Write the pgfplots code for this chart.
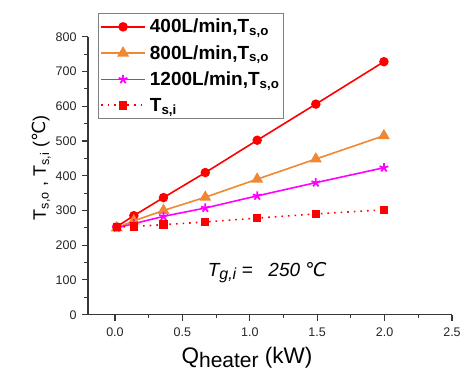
\documentclass[border=0pt]{standalone}
\usepackage{fontspec}
\setmainfont{Liberation Sans}
\newfontfamily\dejavu{DejaVu Sans}
\usepackage{pgfplots}
\pgfplotsset{compat=1.18}
\definecolor{cred}{RGB}{255,0,0}
\definecolor{corange}{RGB}{240,135,50}
\definecolor{cmag}{RGB}{255,0,255}
\definecolor{axgray}{RGB}{55,55,55}
\newcommand{\degC}{{\dejavu ℃}}
\begin{document}
\begin{tikzpicture}[x=1pt,y=1pt]
\begin{axis}[
  at={(0,0)}, anchor=south west,
  scale only axis, width=364pt, height=278pt,
  xmin=-0.2, xmax=2.5, ymin=0, ymax=800,
  axis x line*=bottom, axis y line*=left,
  axis line style={axgray, line width=1.3pt},
  xtick={0,0.5,...,2.5}, ytick={0,100,...,800},
  minor x tick num=1, minor y tick num=1,
  tick align=outside,
  major tick length=6pt, minor tick length=3.5pt,
  tick style={axgray, line width=1.1pt},
  xticklabel style={/pgf/number format/fixed, /pgf/number format/fixed zerofill, /pgf/number format/precision=1},
  /pgf/number format/assume math mode=true,
  ticklabel style={font=\fontsize{12.5}{14}\selectfont, text=black!85},
  xticklabel shift=4pt, yticklabel shift=2pt,
  xlabel={Q\raisebox{-0.35ex}{\fontsize{21}{23}\selectfont heater} (kW)},
  ylabel={T\textsubscript{s,o} , T\textsubscript{s,i} (\degC)},
  xlabel style={font=\fontsize{22.5}{24}\selectfont, yshift=-3pt, xshift=-23pt},
  ylabel style={font=\fontsize{18}{22}\selectfont, yshift=-2pt, xshift=8pt},
  clip=false,
  legend cell align=left,
  legend style={at={(rel axis cs:0.027,1.086)}, anchor=north west,
    draw=gray, line width=0.8pt, font=\fontsize{19}{21}\selectfont\bfseries,
    row sep=7pt, inner xsep=2pt, inner ysep=4pt,
    /tikz/every odd column/.append style={column sep=2pt}},
  legend image code/.code={\draw[line width=1.7pt,mark repeat=2,mark phase=2] plot coordinates {(0pt,0pt) (22pt,0pt) (44pt,0pt)};},
]
\addplot[cred, line width=1.6pt, mark=*, mark size=3.9pt] coordinates {
 (0.013,253) (0.14,285) (0.36,337) (0.67,409) (1.055,502) (1.49,606) (1.995,728)};
\addlegendentry{400L/min,T\textsubscript{s,o}}
\addplot[corange, line width=1.6pt, mark=triangle*, mark size=5.3pt] coordinates {
 (0.013,250) (0.14,270) (0.36,300) (0.67,338) (1.055,390) (1.49,448) (1.995,515)};
\addlegendentry{800L/min,T\textsubscript{s,o}}
\addplot[cmag, line width=1.6pt, mark=star, mark size=4.6pt, mark options={line width=1.8pt}] coordinates {
 (0.013,250) (0.14,262) (0.36,283) (0.67,307) (1.055,342) (1.49,380) (1.995,423)};
\addlegendentry{1200L/min,T\textsubscript{s,o}}
\addplot[cred, line width=1.6pt, dash pattern=on 1.6pt off 5pt, mark=square*, mark size=3.4pt, mark options={solid}] coordinates {
 (0.013,252) (0.14,254) (0.36,259) (0.67,267) (1.055,278) (1.49,290) (1.995,302)};
\addlegendentry{T\textsubscript{s,i}}
\node[font=\fontsize{19}{21}\selectfont\itshape] at (axis cs:1.13,120) {T\raisebox{-0.3ex}{\fontsize{16}{18}\selectfont g,i} =\ \ \ 250\ \degC};
\end{axis}
\pgfresetboundingbox
\path[use as bounding box] (-88,-57.3) rectangle (376,314.7);
\end{tikzpicture}
\end{document}
